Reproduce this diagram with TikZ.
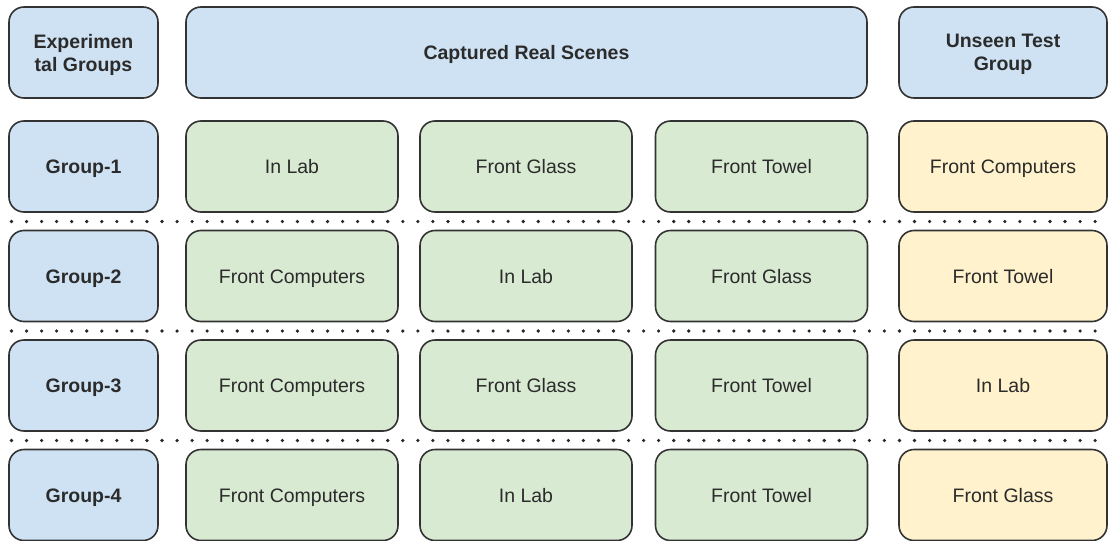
\documentclass[tikz,border=0pt]{standalone}
\usepackage{fontspec}
\setmainfont{Liberation Sans}
\definecolor{hdrblue}{HTML}{CFE2F3}
\definecolor{scenegreen}{HTML}{D9EAD3}
\definecolor{testyellow}{HTML}{FFF2CC}
\definecolor{edgegray}{HTML}{333333}
\definecolor{txtgray}{HTML}{2B2B2B}
\tikzset{
  box/.style={draw=edgegray, line width=1.6pt, rounded corners=15pt,
    minimum height=91pt, inner sep=0pt, align=center, text=txtgray,
    font=\fontsize{19.5}{23}\selectfont},
  % single-line cells: text centred on its capital height
  cell/.style={box, text height=14pt, text depth=0pt},
  % two-line header cells
  hdrtwo/.style={box, fill=hdrblue, text depth=0pt,
    font=\fontsize{19.5}{23}\selectfont\bfseries},
  hdr/.style={cell, fill=hdrblue, font=\fontsize{19.5}{23}\selectfont\bfseries},
  scene/.style={cell, fill=scenegreen},
  unseen/.style={cell, fill=testyellow},
  wA/.style={minimum width=149pt},
  wB/.style={minimum width=212pt},
  wC/.style={minimum width=208pt},
  sep/.style={draw=black!85, line width=3.6pt, line cap=round,
    dash pattern=on 0pt off 15.05pt}
}
\begin{document}
\begin{tikzpicture}[x=1pt, y=-1pt]
  \fill[white] (0,0) rectangle (1109,541);
  \useasboundingbox (0,0) rectangle (1109,541);

  % header row
  \node[hdrtwo, wA] (h0) at (83.5,52.5) {Experimen\\tal Groups};
  \node[hdr, minimum width=681pt] (h1) at (526.5,52.5) {Captured Real Scenes};
  \node[hdrtwo, wC] (h2) at (1003,52.5) {Unseen Test\\Group};

  % group 1
  \node[hdr, wA] (g1) at (83.5,166.5) {Group-1};
  \node[scene, wB] (g1a) at (292,166.5) {In Lab};
  \node[scene, wB] (g1b) at (526,166.5) {Front Glass};
  \node[scene, wB] (g1c) at (761.5,166.5) {Front Towel};
  \node[unseen, wC] (g1t) at (1003,166.5) {Front Computers};

  % group 2
  \node[hdr, wA] (g2) at (83.5,276) {Group-2};
  \node[scene, wB] (g2a) at (292,276) {Front Computers};
  \node[scene, wB] (g2b) at (526,276) {In Lab};
  \node[scene, wB] (g2c) at (761.5,276) {Front Glass};
  \node[unseen, wC] (g2t) at (1003,276) {Front Towel};

  % group 3
  \node[hdr, wA] (g3) at (83.5,385.5) {Group-3};
  \node[scene, wB] (g3a) at (292,385.5) {Front Computers};
  \node[scene, wB] (g3b) at (526,385.5) {Front Glass};
  \node[scene, wB] (g3c) at (761.5,385.5) {Front Towel};
  \node[unseen, wC] (g3t) at (1003,385.5) {In Lab};

  % group 4
  \node[hdr, wA] (g4) at (83.5,495) {Group-4};
  \node[scene, wB] (g4a) at (292,495) {Front Computers};
  \node[scene, wB] (g4b) at (526,495) {In Lab};
  \node[scene, wB] (g4c) at (761.5,495) {Front Towel};
  \node[unseen, wC] (g4t) at (1003,495) {Front Glass};

  % dotted separators between groups
  \coordinate (s1l) at (11.5,221.5);   \coordinate (s1r) at (1100,221.5);
  \coordinate (s2l) at (11.5,331);     \coordinate (s2r) at (1100,331);
  \coordinate (s3l) at (11.5,440.5);   \coordinate (s3r) at (1100,440.5);
  \draw[sep] (s1l) -- (s1r);
  \draw[sep] (s2l) -- (s2r);
  \draw[sep] (s3l) -- (s3r);
\end{tikzpicture}
\end{document}
